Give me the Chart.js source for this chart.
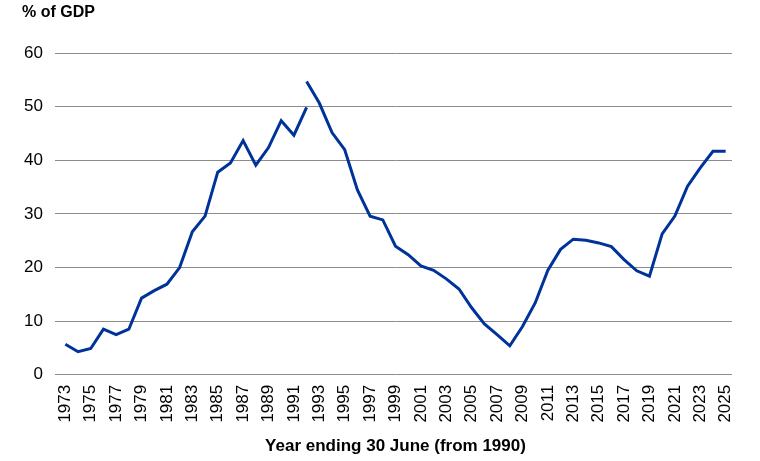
<!DOCTYPE html>
<html>
<head>
<meta charset="utf-8">
<script src="https://cdn.jsdelivr.net/npm/chart.js@4.4.1/dist/chart.umd.min.js"></script>
<style>
  html, body { margin: 0; padding: 0; background: #ffffff; }
  #chart { display: block; }
</style>
</head>
<body>
<canvas id="chart" width="760" height="461"></canvas>
<script>
// x-axis categories (calendar years to 1992, then year ending 30 June)
const YEARS = [
  "1973", "1974", "1975", "1976", "1977", "1978", "1979", "1980", "1981", "1982",
  "1983", "1984", "1985", "1986", "1987", "1988", "1989", "1990", "1991", "1992",
  "1993", "1994", "1995", "1996", "1997", "1998", "1999", "2000", "2001", "2002",
  "2003", "2004", "2005", "2006", "2007", "2008", "2009", "2010", "2011", "2012",
  "2013", "2014", "2015", "2016", "2017", "2018", "2019", "2020", "2021", "2022",
  "2023", "2024", "2025"
];

// first segment: 1973 - 1992
const EARLY_YEARS = [
  "1973", "1974", "1975", "1976", "1977", "1978", "1979", "1980", "1981", "1982",
  "1983", "1984", "1985", "1986", "1987", "1988", "1989", "1990", "1991", "1992"
];
const EARLY_VALUES = [
  5.7, 4.3, 4.9, 8.5, 7.5, 8.5, 14.3, 15.7, 16.9, 20.0,
  26.7, 29.6, 37.8, 39.5, 43.7, 39.1, 42.4, 47.4, 44.7, 49.9
];

// second segment: 1992 - 2025
const LATE_YEARS = [
  "1992", "1993", "1994", "1995", "1996", "1997", "1998", "1999", "2000", "2001",
  "2002", "2003", "2004", "2005", "2006", "2007", "2008", "2009", "2010", "2011",
  "2012", "2013", "2014", "2015", "2016", "2017", "2018", "2019", "2020", "2021",
  "2022", "2023", "2024", "2025"
];
const LATE_VALUES = [
  54.7, 50.7, 45.2, 42.0, 34.5, 29.6, 28.9, 24.0, 22.4, 20.3,
  19.5, 17.9, 16.0, 12.5, 9.5, 7.5, 5.4, 9.0, 13.4, 19.5,
  23.4, 25.3, 25.1, 24.6, 23.9, 21.5, 19.4, 18.4, 26.3, 29.6,
  35.2, 38.6, 41.7, 41.7
];

const Y_TICKS = [0, 10, 20, 30, 40, 50, 60];

const LINE_COLOR = "#003399";
const GRID_COLOR = "#8c8c8c";
const FONT = "'Liberation Sans', Arial, sans-serif";

function toPoints(years, values) {
  return years.map((y, i) => ({ x: y, y: values[i] }));
}

const ctx = document.getElementById("chart");

new Chart(ctx, {
  type: "line",
  data: {
    labels: YEARS,
    datasets: [
      {
        data: toPoints(EARLY_YEARS, EARLY_VALUES),
        borderColor: LINE_COLOR,
        borderWidth: 3,
        pointRadius: 0,
        tension: 0,
        fill: false
      },
      {
        data: toPoints(LATE_YEARS, LATE_VALUES),
        borderColor: LINE_COLOR,
        borderWidth: 3,
        pointRadius: 0,
        tension: 0,
        fill: false
      }
    ]
  },
  options: {
    responsive: false,
    animation: false,
    layout: {
      padding: { left: 22, right: 28, top: 0, bottom: 4 }
    },
    plugins: {
      legend: { display: false },
      tooltip: { enabled: false },
      title: {
        display: true,
        text: "% of GDP",
        align: "start",
        color: "#000000",
        font: { family: FONT, size: 16, weight: "bold" },
        padding: { top: 3, bottom: 31 }
      }
    },
    scales: {
      x: {
        type: "category",
        offset: true,
        grid: { display: false, drawTicks: false },
        border: { display: false },
        ticks: {
          autoSkip: false,
          maxRotation: 90,
          minRotation: 90,
          padding: 10,
          color: "#000000",
          font: { family: FONT, size: 17 },
          callback: function (value, index) {
            return index % 2 === 0 ? this.getLabelForValue(value) : "";
          }
        },
        title: {
          display: true,
          text: "Year ending 30 June (from 1990)",
          color: "#000000",
          font: { family: FONT, size: 17, weight: "bold" },
          padding: { top: 4, bottom: 0 }
        }
      },
      y: {
        min: 0,
        max: 60,
        afterBuildTicks: (scale) => {
          scale.ticks = Y_TICKS.map((v) => ({ value: v }));
        },
        afterFit: (scale) => {
          scale.width = 37;
        },
        grid: {
          color: GRID_COLOR,
          lineWidth: 1,
          drawTicks: true,
          tickLength: 4
        },
        border: { display: false },
        ticks: {
          padding: 12,
          color: "#000000",
          font: { family: FONT, size: 17 }
        }
      }
    }
  }
});
</script>
</body>
</html>
